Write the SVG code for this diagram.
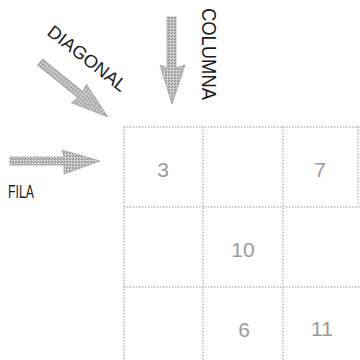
<svg xmlns="http://www.w3.org/2000/svg" width="360" height="360" viewBox="0 0 360 360">
<defs>
<style>
.grid{stroke:#999999;stroke-width:1;stroke-dasharray:1.5 1.5;fill:none}
.num{font-family:"Liberation Sans",Arial,sans-serif;font-size:21px;fill:#9a9a9a;text-anchor:middle}
.lbl{font-family:"Liberation Sans",Arial,sans-serif;fill:#1a1a1a}
.arr{fill:url(#ht);stroke:#9a9a9a;stroke-width:0.7}
</style>
<pattern id="ht" width="3" height="3" patternUnits="userSpaceOnUse">
<rect width="3" height="3" fill="#c4c4c4"/>
<rect width="1" height="1" fill="#808080"/>
<rect x="2" y="1" width="1" height="1" fill="#e4e4e4"/>
<rect x="1" y="2" width="1" height="1" fill="#8e8e8e"/>
</pattern>
</defs>
<rect width="360" height="360" fill="#ffffff"/>
<g id="grid">
<line class="grid" x1="124" y1="127" x2="360" y2="127"/>
<line class="grid" x1="124" y1="207" x2="360" y2="207"/>
<line class="grid" x1="124" y1="287" x2="360" y2="287"/>
<line class="grid" x1="124" y1="127" x2="124" y2="360"/>
<line class="grid" x1="203" y1="127" x2="203" y2="360"/>
<line class="grid" x1="283" y1="127" x2="283" y2="360"/>
<line class="grid" x1="358" y1="127" x2="358" y2="205"/>
</g>
<g id="cell-3"><text class="num" x="163" y="177">3</text></g>
<g id="cell-7"><text class="num" x="320" y="177">7</text></g>
<g id="cell-10"><text class="num" x="243" y="257">10</text></g>
<g id="cell-6"><text class="num" x="244" y="337">6</text></g>
<g id="cell-11"><text class="num" x="322" y="336">11</text></g>
<g id="label-fila"><text class="lbl" x="8" y="198" font-size="19" textLength="26" lengthAdjust="spacingAndGlyphs">FILA</text></g>
<g id="label-columna"><text class="lbl" transform="translate(202,8) rotate(90)" font-size="20" textLength="92" lengthAdjust="spacingAndGlyphs">COLUMNA</text></g>
<g id="label-diagonal"><text class="lbl" transform="translate(46,34) rotate(38)" font-size="18" textLength="95" lengthAdjust="spacingAndGlyphs">DIAGONAL</text></g>
<g id="connectors">
<polygon class="arr" points="10,157 64,157 62,150 100,161 64,174 64,165 10,165"/>
<polygon class="arr" points="167,17 176,17 176,68 185,65 172,104 160,65 167,68"/>
<polygon class="arr" transform="translate(40,62) rotate(39)" points="0,-4 52,-4 50,-12 87,0 50,12 52,4 0,4"/>
</g>
</svg>
